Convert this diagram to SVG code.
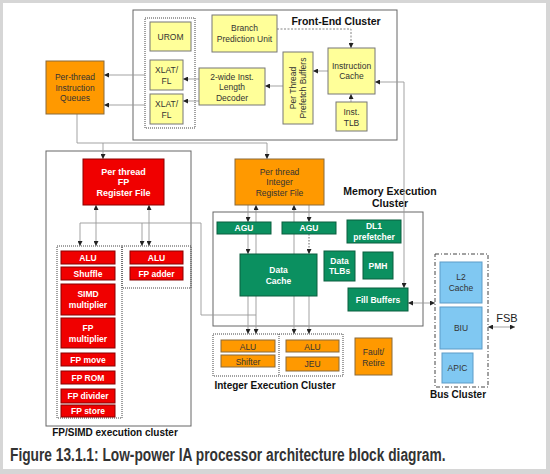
<svg xmlns="http://www.w3.org/2000/svg" width="550" height="474" viewBox="0 0 550 474">
<defs>
<marker id="ah" viewBox="0 0 6 6" refX="6" refY="3" markerWidth="5" markerHeight="5" markerUnits="userSpaceOnUse" orient="auto-start-reverse"><path d="M0,0 L6,3 L0,6 z" fill="#222"/></marker>
<style>
text{font-family:"Liberation Sans",Arial,sans-serif;font-size:8.5px;text-anchor:middle}
.y rect{fill:#ffff99;stroke:#777;stroke-width:1}
.y text,.o text,.b text{fill:#333}
.o rect{fill:#ff9900;stroke:#8a6a3a;stroke-width:1}
.r rect{fill:#f00000;stroke:#8a0000;stroke-width:1}
.r text,.g text{fill:#fff;font-weight:bold}
.g rect{fill:#0b9060;stroke:#0a5e3e;stroke-width:1}
.b rect{fill:#80c8f2;stroke:#5c9cc8;stroke-width:1}
.cl{fill:none;stroke:#666;stroke-width:1}
.dot{fill:none;stroke:#444;stroke-width:1;stroke-dasharray:1,1}
.lbl{font-weight:bold;font-size:10px;fill:#111}
#connectors path{fill:none;stroke:#999;stroke-width:0.9}
.a{marker-end:url(#ah)}
.aa{marker-end:url(#ah);marker-start:url(#ah)}
</style>
</defs>
<rect x="0" y="0" width="550" height="474" fill="#d6d6d6"/>
<rect x="3" y="3" width="543" height="466" fill="#ffffff"/>

<g id="clusters">
<g id="frontend-cluster"><rect class="cl" x="133" y="10" width="264" height="130"/><text class="lbl" x="336" y="25" style="font-size:10.5px">Front-End Cluster</text></g>
<rect class="dot" x="145" y="18" width="50" height="110"/>
<g id="fp-cluster"><rect class="cl" x="46" y="151" width="145" height="275"/><text class="lbl" x="115" y="436">FP/SIMD execution cluster</text></g>
<rect class="dot" x="57" y="246" width="65" height="172"/>
<rect class="dot" x="122" y="246" width="69" height="42"/>
<g id="mem-cluster"><rect class="cl" x="213" y="212" width="210" height="114"/><text class="lbl" x="390" y="195" style="font-size:10.5px">Memory Execution</text><text class="lbl" x="390" y="207" style="font-size:10.5px">Cluster</text></g>
<g id="int-cluster"><rect class="dot" x="213" y="334" width="130" height="42"/><path d="M279,334 V376" stroke="#444" stroke-width="1" stroke-dasharray="1,1" fill="none"/><text class="lbl" x="275" y="389">Integer Execution Cluster</text></g>
<g id="bus-cluster"><rect x="435" y="254" width="53" height="133" fill="none" stroke="#444" stroke-width="1" stroke-dasharray="4,2,1,2"/><text class="lbl" x="458" y="398">Bus Cluster</text></g>
</g>

<g id="connectors">
<path d="M277,29 H351 V48" class="a" style="stroke-dasharray:2,1.5;stroke:#777"/>
<path d="M328,71 H313" class="a"/>
<path d="M283,86 H265" class="a"/>
<path d="M199,79 H183" class="a"/>
<path d="M199,101 H183" class="a"/>
<path d="M351,102 V94" class="a"/>
<path d="M145,75 H104" class="a"/>
<path d="M145,105 H104" class="a"/>
<path d="M77,114 V143 H267 V159" class="a"/>
<path d="M103,143 V159" class="a"/>
<path d="M96,205 V246" class="aa"/>
<path d="M149,205 V246" class="aa"/>
<path d="M256,315 H201 V223 H80 V246" class="a"/>
<path d="M142,223 V246" class="a"/>
<path d="M248,205 V222" class="a"/>
<path d="M248,234 V254" class="a"/>
<path d="M248,296 V334" class="a"/>
<path d="M256,205 V334" class="aa"/>
<path d="M294,205 V334" class="aa"/>
<path d="M309,205 V222" class="a"/>
<path d="M309,234 V254" class="a" style="stroke-dasharray:1.5,1.5;stroke:#555"/>
<path d="M309,296 V334" class="a"/>
<path d="M404,288 V82 H375" class="aa"/>
<path d="M408,303 H435" class="aa"/>
<path d="M488,327 H515" class="aa"/>
</g>
<text x="507" y="322" style="font-size:11px;fill:#222">FSB</text>

<g id="urom" class="y"><rect x="150" y="22" width="41" height="29"/><text x="170.5" y="40">UROM</text></g>
<g id="xlat1" class="y"><rect x="150" y="60" width="33" height="30"/><text x="166.5" y="73">XLAT/</text><text x="166.5" y="84">FL</text></g>
<g id="xlat2" class="y"><rect x="150" y="94" width="33" height="30"/><text x="166.5" y="107">XLAT/</text><text x="166.5" y="118">FL</text></g>
<g id="bpu" class="y"><rect x="212" y="15" width="65" height="37"/><text x="244.5" y="31">Branch</text><text x="244.5" y="41.5">Prediction Unit</text></g>
<g id="decoder" class="y"><rect x="199" y="68" width="66" height="37"/><text x="232" y="79.5">2-wide Inst.</text><text x="232" y="90">Length</text><text x="232" y="100.5">Decoder</text></g>
<g id="prefetch" class="y"><rect x="283" y="52" width="30" height="72"/><g transform="translate(298,88) rotate(-90)"><text x="0" y="-2">Per Thread</text><text x="0" y="8">Prefetch Buffers</text></g></g>
<g id="icache" class="y"><rect x="328" y="48" width="47" height="46"/><text x="351.5" y="69">Instruction</text><text x="351.5" y="79">Cache</text></g>
<g id="itlb" class="y"><rect x="336" y="102" width="31" height="29"/><text x="351.5" y="115">Inst.</text><text x="351.5" y="125.5">TLB</text></g>

<g id="piq" class="o"><rect x="46" y="61" width="58" height="53"/><text x="75" y="80">Per-thread</text><text x="75" y="90.5">Instruction</text><text x="75" y="101">Queues</text></g>
<g id="irf" class="o"><rect x="235" y="159" width="89" height="46"/><text x="279.5" y="175">Per thread</text><text x="279.5" y="185">Integer</text><text x="279.5" y="195.5">Register File</text></g>

<g id="fprf" class="r"><rect x="83" y="159" width="81" height="46"/><text x="123.5" y="174.5" style="font-size:9px">Per thread</text><text x="123.5" y="185" style="font-size:9px">FP</text><text x="123.5" y="195.5" style="font-size:9px">Register File</text></g>
<g id="fp-alu1" class="r"><rect x="61" y="251" width="54" height="13"/><text x="88" y="260.5">ALU</text></g>
<g id="fp-shuffle" class="r"><rect x="61" y="267" width="54" height="13"/><text x="88" y="276.5">Shuffle</text></g>
<g id="fp-alu2" class="r"><rect x="130" y="251" width="53" height="13"/><text x="156.5" y="260.5">ALU</text></g>
<g id="fp-adder" class="r"><rect x="130" y="267" width="53" height="13"/><text x="156.5" y="276.5">FP adder</text></g>
<g id="simd-mul" class="r"><rect x="61" y="284" width="54" height="31"/><text x="88" y="297">SIMD</text><text x="88" y="307.5">multiplier</text></g>
<g id="fp-mul" class="r"><rect x="61" y="318" width="54" height="30"/><text x="88" y="331">FP</text><text x="88" y="341.5">multiplier</text></g>
<g id="fp-move" class="r"><rect x="61" y="353" width="54" height="13"/><text x="88" y="362.5">FP move</text></g>
<g id="fp-rom" class="r"><rect x="61" y="371" width="54" height="13"/><text x="88" y="380.5">FP ROM</text></g>
<g id="fp-div" class="r"><rect x="61" y="389" width="54" height="14"/><text x="88" y="399">FP divider</text></g>
<g id="fp-store" class="r"><rect x="61" y="405" width="54" height="12"/><text x="88" y="414">FP store</text></g>

<g id="agu1" class="g"><rect x="217" y="222" width="54" height="12"/><text x="244" y="231">AGU</text></g>
<g id="agu2" class="g"><rect x="282" y="222" width="54" height="12"/><text x="309" y="231">AGU</text></g>
<g id="dl1" class="g"><rect x="347" y="220" width="54" height="23"/><text x="374" y="229">DL1</text><text x="374" y="239.5">prefetcher</text></g>
<g id="dtlb" class="g"><rect x="324" y="251" width="31" height="30"/><text x="339.5" y="263.5">Data</text><text x="339.5" y="274">TLBs</text></g>
<g id="pmh" class="g"><rect x="363" y="252" width="30" height="27"/><text x="378" y="268.5">PMH</text></g>
<g id="dcache" class="g"><rect x="240" y="254" width="77" height="42"/><text x="278.5" y="273">Data</text><text x="278.5" y="283.5">Cache</text></g>
<g id="fillbuf" class="g"><rect x="348" y="288" width="60" height="23"/><text x="378" y="302.5">Fill Buffers</text></g>

<g id="int-alu1" class="o"><rect x="221" y="340" width="54" height="12"/><text x="248" y="349.5">ALU</text></g>
<g id="shifter" class="o"><rect x="221" y="355" width="54" height="12"/><text x="248" y="364.5">Shifter</text></g>
<g id="int-alu2" class="o"><rect x="286" y="340" width="53" height="12"/><text x="312.5" y="349.5">ALU</text></g>
<g id="jeu" class="o"><rect x="286" y="357" width="53" height="14"/><text x="312.5" y="367">JEU</text></g>
<g id="fault" class="o"><rect x="355" y="338" width="37" height="37"/><text x="373.5" y="355">Fault/</text><text x="373.5" y="365.5">Retire</text></g>

<g id="l2" class="b"><rect x="440" y="262" width="42" height="41"/><text x="461" y="280">L2</text><text x="461" y="290.5">Cache</text></g>
<g id="biu" class="b"><rect x="440" y="307" width="42" height="42"/><text x="461" y="331">BIU</text></g>
<g id="apic" class="b"><rect x="442" y="353" width="31" height="30"/><text x="457.5" y="371">APIC</text></g>

<text transform="translate(10,461) scale(0.65,1)" x="0" y="0" textLength="670" lengthAdjust="spacingAndGlyphs" style="text-anchor:start;font-size:18.5px;font-weight:bold;fill:#333">Figure 13.1.1: Low-power IA processor architecture block diagram.</text>
</svg>
